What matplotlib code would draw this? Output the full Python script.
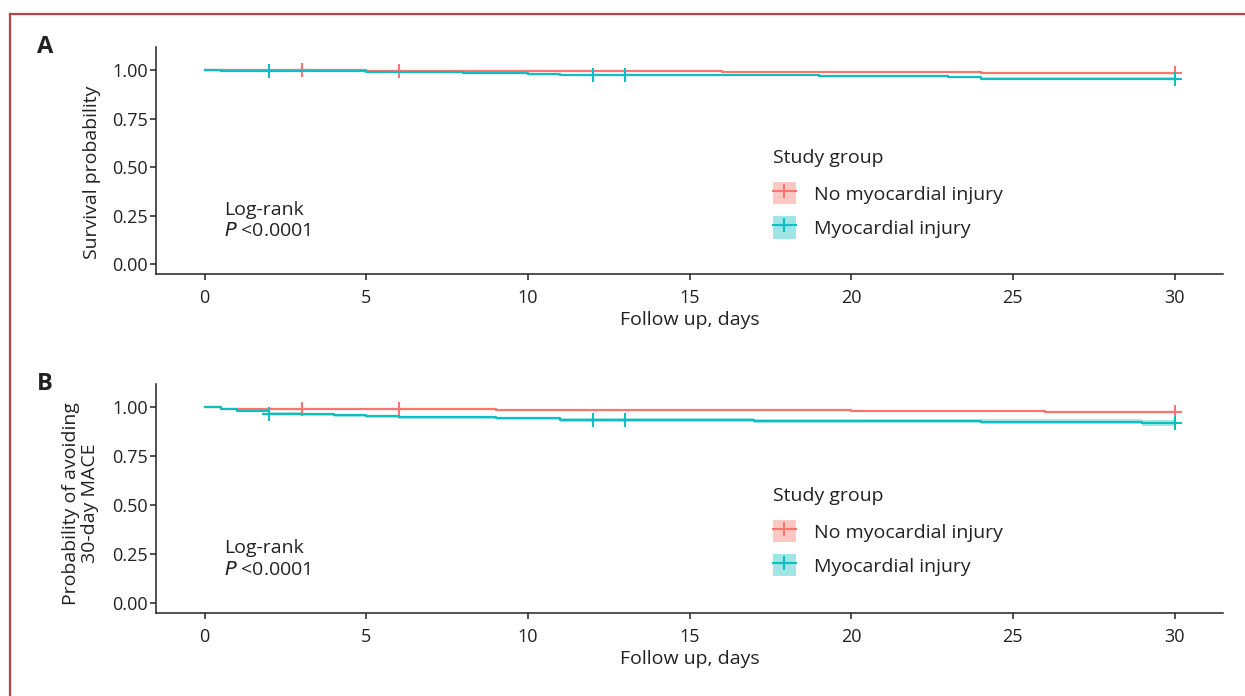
"""Two-panel Kaplan-Meier figure: survival and 30-day MACE by myocardial injury."""
import matplotlib
matplotlib.use("Agg")
import matplotlib.pyplot as plt
import numpy as np
from matplotlib.lines import Line2D
from matplotlib.patches import Patch
from matplotlib.legend_handler import HandlerTuple

plt.rcParams["font.family"] = ["Open Sans", "DejaVu Sans"]

RED = "#F8766D"
TEAL = "#10BEC2"
INK = "#222222"
GROUPS = ["No myocardial injury", "Myocardial injury"]
XTICKS = [0, 5, 10, 15, 20, 25, 30]
YTICKS = [0.00, 0.25, 0.50, 0.75, 1.00]

# --- panel A: survival ---
a_red_t = [0, 0.5, 5, 10, 16, 18, 21, 24, 29, 30]
a_red_s = [1.000, 0.999, 0.997, 0.995, 0.993, 0.991, 0.989, 0.988, 0.986, 0.986]
a_red_lo = [1.000, 0.997, 0.994, 0.992, 0.989, 0.987, 0.985, 0.984, 0.982, 0.982]
a_red_hi = [1.000, 1.000, 0.999, 0.998, 0.996, 0.995, 0.993, 0.992, 0.990, 0.990]
a_red_cens = [3, 6, 30]

a_teal_t = [0, 0.5, 3, 5, 7, 8, 9, 10, 11, 16, 19, 23, 24, 30]
a_teal_s = [1.000, 0.997, 0.995, 0.993, 0.990, 0.987, 0.984, 0.981, 0.977, 0.974, 0.970, 0.966, 0.957, 0.957]
a_teal_lo = [1.000, 0.995, 0.992, 0.990, 0.986, 0.983, 0.980, 0.976, 0.972, 0.968, 0.963, 0.959, 0.949, 0.949]
a_teal_hi = [1.000, 0.999, 0.998, 0.996, 0.994, 0.991, 0.989, 0.986, 0.982, 0.980, 0.977, 0.973, 0.965, 0.965]
a_teal_cens = [2, 12, 13, 30]

# --- panel B: avoiding 30-day MACE ---
b_red_t = [0, 0.5, 9, 20, 26, 30]
b_red_s = [1.000, 0.991, 0.986, 0.983, 0.979, 0.979]
b_red_lo = [1.000, 0.988, 0.983, 0.979, 0.975, 0.975]
b_red_hi = [1.000, 0.994, 0.989, 0.987, 0.983, 0.983]
b_red_cens = [3, 6, 30]

b_teal_t = [0, 0.5, 1, 2, 3, 4, 5, 6, 9, 11, 17, 24, 29, 30]
b_teal_s = [1.000, 0.990, 0.981, 0.969, 0.965, 0.960, 0.955, 0.950, 0.944, 0.936, 0.932, 0.927, 0.921, 0.921]
b_teal_lo = [1.000, 0.985, 0.975, 0.962, 0.957, 0.952, 0.946, 0.941, 0.934, 0.925, 0.920, 0.914, 0.906, 0.906]
b_teal_hi = [1.000, 0.995, 0.987, 0.976, 0.972, 0.968, 0.963, 0.959, 0.953, 0.946, 0.943, 0.939, 0.934, 0.934]
b_teal_cens = [2, 12, 13, 30]

PANELS = [
    ("A", "Survival probability", (-0.060, 0.45),
     [(a_red_t, a_red_s, a_red_lo, a_red_hi, a_red_cens, RED),
      (a_teal_t, a_teal_s, a_teal_lo, a_teal_hi, a_teal_cens, TEAL)]),
    ("B", "Probability of avoiding\n30-day MACE", (-0.071, 0.48),
     [(b_red_t, b_red_s, b_red_lo, b_red_hi, b_red_cens, RED),
      (b_teal_t, b_teal_s, b_teal_lo, b_teal_hi, b_teal_cens, TEAL)]),
]


def step_at(t, times, surv):
    idx = np.searchsorted(times, t, side="right") - 1
    return np.asarray(surv)[idx]


W, H = 1245, 696
fig = plt.figure(figsize=(W / 100, H / 100), dpi=100)
boxes = [(47, 274), (384, 613)]  # (top, bottom) in pixels

for (label, ylab, ylab_xy, series), (top, bot) in zip(PANELS, boxes):
    ax = fig.add_axes([156 / W, 1 - bot / H, (1223 - 156) / W, (bot - top) / H])
    for t, s, lo, hi, cens, col in series:
        ax.fill_between(t, lo, hi, step="post", color=col, alpha=0.35, lw=0)
        ax.step(t, s, where="post", color=col, lw=1.6)
        ax.plot(cens, step_at(cens, t, s), ls="none", marker="+", ms=10,
                mew=1.5, color=col)
    ax.set_xlim(-1.5, 31.5)
    ax.set_ylim(-0.05, 1.12)
    ax.set_xticks(XTICKS)
    ax.set_yticks(YTICKS)
    ax.set_yticklabels([f"{v:.2f}" for v in YTICKS])
    for side in ("top", "right"):
        ax.spines[side].set_visible(False)
    for side in ("left", "bottom"):
        ax.spines[side].set_linewidth(1.1)
        ax.spines[side].set_color(INK)
    ax.tick_params(labelsize=13, length=4, width=1.1, color=INK,
                   labelcolor=INK)
    ax.tick_params(axis="x", pad=7)
    ax.tick_params(axis="y", pad=2)
    ax.set_xlabel("Follow up, days", fontsize=14, color=INK, labelpad=3)
    ax.set_ylabel(ylab, fontsize=14, color=INK, linespacing=1.1, va="center")
    ax.yaxis.set_label_coords(*ylab_xy)
    ax.text(0.6, 0.225, "Log-rank\n$\\it{P}$ <0.0001", fontsize=14,
            color=INK, va="center", ha="left", linespacing=1.25)
    fig.text(45 / W, 1 - top / H, label, fontsize=17, fontweight="bold",
             ha="center", va="center", color=INK)

    handles = [(Patch(facecolor=c, alpha=0.4, edgecolor="none"),
                Line2D([], [], color=c, lw=1.5, marker="+", ms=10, mew=1.5))
               for c in (RED, TEAL)]
    leg = ax.legend(handles, GROUPS, title="Study group", loc="upper left",
                    bbox_to_anchor=(0.5705, 0.586), frameon=False, fontsize=14,
                    title_fontsize=14, alignment="left",
                    handler_map={tuple: HandlerTuple(ndivide=1, pad=0)},
                    handlelength=1.2, handleheight=1.4, labelspacing=0.6,
                    handletextpad=0.93, borderaxespad=0)
    for txt in leg.get_texts():
        txt.set_color(INK)
    leg.get_title().set_color(INK)
    leg._legend_box.sep = 11

# frame lines on top and left edges
fig.add_artist(Line2D([10 / W, 1], [1 - 14 / H, 1 - 14 / H], color="#b8414b", lw=1.6))
fig.add_artist(Line2D([10 / W, 10 / W], [0, 1 - 14 / H], color="#b8414b", lw=1.6))

fig.savefig("out.png", dpi=100)
